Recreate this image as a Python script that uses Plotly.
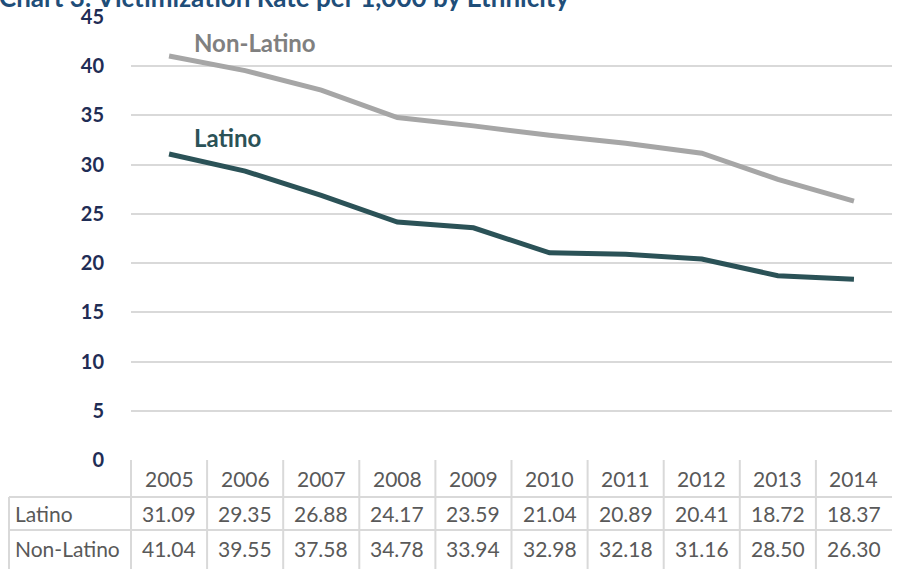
import plotly.graph_objects as go

# Victimization rate per 1,000, by ethnicity
years = ["2005", "2006", "2007", "2008", "2009", "2010", "2011", "2012", "2013", "2014"]
latino = [31.09, 29.35, 26.88, 24.17, 23.59, 21.04, 20.89, 20.41, 18.72, 18.37]
non_latino = [41.04, 39.55, 37.58, 34.78, 33.94, 32.98, 32.18, 31.16, 28.50, 26.30]
y_ticks = [0, 5, 10, 15, 20, 25, 30, 35, 40, 45]

W, H = 903, 569
FONT = "Lato"
NAVY = "#1F2D55"
TITLE_BLUE = "#1F4E79"
LATINO_C = "#2B5257"
NONLAT_LINE = "#A6A6A6"
NONLAT_TEXT = "#808080"
TABLE_TEXT = "#595959"
GRID = "#D9D9D9"

# plot area in pixels
px_left, px_right = 131, 892
px_top, px_bottom = 17, 460


def py(p):
    """pixel row -> paper y"""
    return 1 - p / H


def px(p):
    """pixel column -> paper x"""
    return p / W


fig = go.Figure()
fig.add_trace(go.Scatter(x=years, y=non_latino, mode="lines", name="Non-Latino",
                         line=dict(color=NONLAT_LINE, width=5), hoverinfo="x+y"))
fig.add_trace(go.Scatter(x=years, y=latino, mode="lines", name="Latino",
                         line=dict(color=LATINO_C, width=5), hoverinfo="x+y"))

annotations = []
shapes = []

# title (sits partly above the page edge)
annotations.append(dict(text="<b>Chart 3: Victimization Rate per 1,000 by Ethnicity</b>",
                        xref="paper", yref="paper", x=px(-3), y=py(-3), xanchor="left",
                        yanchor="middle", showarrow=False,
                        font=dict(family=FONT, size=26, color=TITLE_BLUE)))

# series labels
annotations.append(dict(text="<b>Non-Latino</b>", xref="paper", yref="paper",
                        x=px(192), y=py(42), xanchor="left", yanchor="middle",
                        showarrow=False, font=dict(family=FONT, size=24, color=NONLAT_TEXT)))
annotations.append(dict(text="<b>Latino</b>", xref="paper", yref="paper",
                        x=px(192), y=py(137), xanchor="left", yanchor="middle",
                        showarrow=False, font=dict(family=FONT, size=24, color=LATINO_C)))

# data table under the axis (columns follow the category positions of the x axis)
row_header_y, row_lat_y, row_non_y = 478, 513, 548
rows = [("Latino", latino, row_lat_y), ("Non-Latino", non_latino, row_non_y)]
TABLE_FONT = dict(family=FONT, size=21, color=TABLE_TEXT)
for i, yr in enumerate(years):
    annotations.append(dict(text=yr, xref="x", yref="paper", x=i, y=py(row_header_y),
                            xanchor="center", yanchor="middle", showarrow=False,
                            font=TABLE_FONT))
    for _, vals, ry in rows:
        annotations.append(dict(text=f"{vals[i]:.2f}", xref="x", yref="paper", x=i,
                                y=py(ry), xanchor="center", yanchor="middle",
                                showarrow=False, font=TABLE_FONT))
for name, _, ry in rows:
    annotations.append(dict(text=name, xref="paper", yref="paper", x=px(13), y=py(ry),
                            xanchor="left", yanchor="middle", showarrow=False,
                            font=TABLE_FONT))

line_style = dict(color=GRID, width=2)
# vertical cell borders on each column boundary
for k in range(len(years)):
    xd = k / len(years)
    shapes.append(dict(type="line", xref="x domain", yref="paper", x0=xd, x1=xd,
                       y0=py(px_bottom), y1=py(H + 5), line=line_style))
# left border of the row-label column
shapes.append(dict(type="line", xref="paper", yref="paper", x0=px(9), x1=px(9),
                   y0=py(497), y1=py(H + 5), line=line_style))
# horizontal row borders
for ry in (497, 530):
    shapes.append(dict(type="line", xref="paper", yref="paper", x0=px(9), x1=px(px_right),
                       y0=py(ry), y1=py(ry), line=line_style))

fig.update_layout(
    width=W, height=H,
    margin=dict(l=0, r=0, t=0, b=0),
    paper_bgcolor="white", plot_bgcolor="white",
    showlegend=False,
    xaxis=dict(domain=[px(px_left), px(px_right)], type="category",
               range=[-0.5, len(years) - 0.5], showticklabels=False, automargin=False,
               showgrid=False, zeroline=False, showline=False, ticks=""),
    yaxis=dict(domain=[py(px_bottom), py(px_top)], range=[0, 45], tickvals=y_ticks,
               ticktext=[f"<b>{v}</b>" for v in y_ticks], automargin=False,
               showgrid=True, gridcolor=GRID, gridwidth=2, zeroline=False,
               showline=False, ticks="outside", ticklen=22, tickcolor="rgba(0,0,0,0)",
               tickfont=dict(family=FONT, size=20, color=NAVY)),
    annotations=annotations,
    shapes=shapes,
)

fig.write_html("out.html")
